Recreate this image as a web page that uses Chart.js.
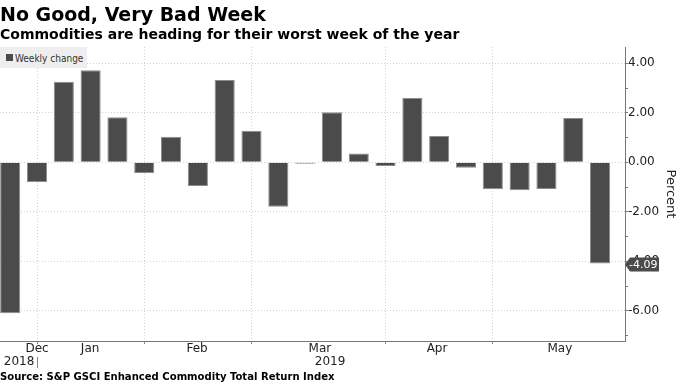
<!DOCTYPE html>
<html>
<head>
<meta charset="utf-8">
<script src="https://cdn.jsdelivr.net/npm/chart.js@4.4.1/dist/chart.umd.min.js"></script>
<style>
    html, body { margin: 0; padding: 0; background: #fff; }
    #wrap { position: relative; width: 680px; height: 383px; overflow: hidden; font-family: "DejaVu Sans", sans-serif; }
    #chart { position: absolute; left: 0; top: 0; }
    .title { position: absolute; left: 0; top: 3px; font-size: 19px; font-weight: bold; color: #000; white-space: nowrap; }
    .subtitle { position: absolute; left: 0; top: 26px; font-size: 14px; font-weight: bold; color: #000; white-space: nowrap; }
    .legend { position: absolute; left: 0; top: 47px; width: 87px; height: 21px; background: #eeeeee; }
    .legend .swatch { position: absolute; left: 6px; top: 7px; width: 7px; height: 7px; background: #4b4b4b; }
    .legend .label { position: absolute; left: 15px; top: 6px; font-family: "DejaVu Sans Condensed", "DejaVu Sans", sans-serif; font-size: 10px; color: #333; white-space: nowrap; }
    .source { position: absolute; left: 0; top: 370px; font-family: "DejaVu Sans Condensed", "DejaVu Sans", sans-serif; font-size: 11.2px; font-weight: bold; color: #000; white-space: nowrap; }
</style>
</head>
<body>
<div id="wrap">
    <canvas id="chart" width="680" height="383"></canvas>
    <div class="title">No Good, Very Bad Week</div>
    <div class="subtitle">Commodities are heading for their worst week of the year</div>
    <div class="legend"><span class="swatch"></span><span class="label">Weekly change</span></div>
    <div class="source">Source: S&amp;P GSCI Enhanced Commodity Total Return Index</div>
</div>
<script>
// Weekly % change, one bar per week (week ending Friday)
const weekEnding = [
    "2018-12-28", "2019-01-04", "2019-01-11", "2019-01-18", "2019-01-25",
    "2019-02-01", "2019-02-08", "2019-02-15", "2019-02-22", "2019-03-01",
    "2019-03-08", "2019-03-15", "2019-03-22", "2019-03-29", "2019-04-05",
    "2019-04-12", "2019-04-19", "2019-04-26", "2019-05-03", "2019-05-10",
    "2019-05-17", "2019-05-24", "2019-05-31"
];
const weeklyChange = [
    -6.10, -0.80, 3.26, 3.72, 1.82, -0.43, 1.03, -0.96, 3.33, 1.28,
    -1.80, -0.06, 2.02, 0.36, -0.15, 2.60, 1.06, -0.22, -1.09, -1.13,
    -1.08, 1.79, -4.09
];

// x axis, in week-index units
const monthStartAt = [1, 5, 9, 14, 18];
const monthLabels = ["Dec", "Jan", "Feb", "Mar", "Apr", "May"];
const monthLabelAt = [1, 2.98, 6.97, 11.55, 15.92, 20.5];
const yearLabels = ["2018", "2019"];
const yearLabelAt = [0.33, 11.93];
const yearBreakAt = 1;

// y axis (percent)
const yTickValues = [-7, -6, -5, -4, -3, -2, -1, 0, 1, 2, 3, 4];

const X_MIN = -0.38, X_MAX = 22.93;
const BAR = "#4b4b4b";

// latest-value tag on the right axis + the small 2018|2019 divider
const extras = {
    id: "extras",
    afterDraw(chart) {
        const ctx = chart.ctx;
        const last = weeklyChange[weeklyChange.length - 1];
        const y = Math.round(chart.scales.y.getPixelForValue(last)) + 0.5;
        const x = chart.chartArea.right;
        ctx.save();
        ctx.fillStyle = BAR;
        ctx.beginPath();
        ctx.moveTo(x, y);
        ctx.lineTo(x + 5, y - 7);
        ctx.lineTo(x + 34, y - 7);
        ctx.lineTo(x + 34, y + 7);
        ctx.lineTo(x + 5, y + 7);
        ctx.closePath();
        ctx.fill();
        ctx.fillStyle = "#fff";
        ctx.font = '11px "DejaVu Sans"';
        ctx.textAlign = "left";
        ctx.textBaseline = "middle";
        ctx.fillText(last.toFixed(2), x + 4, y + 0.5);

        const yr = chart.scales.xYear;
        const bx = Math.round(yr.getPixelForValue(yearBreakAt)) + 0.5;
        ctx.strokeStyle = "#888";
        ctx.lineWidth = 1;
        ctx.beginPath();
        ctx.moveTo(bx, yr.top + 2);
        ctx.lineTo(bx, yr.top + 13);
        ctx.stroke();
        ctx.restore();
    }
};

new Chart(document.getElementById("chart"), {
    type: "bar",
    data: {
        labels: weekEnding,
        datasets: [{
            label: "Weekly change",
            data: weeklyChange.map((v, i) => ({ x: i, y: v })),
            backgroundColor: BAR,
            borderColor: "#8c8c8c",
            borderWidth: 1,
            categoryPercentage: 1,
            barPercentage: 0.75,
            xAxisID: "x",
            yAxisID: "y"
        }]
    },
    options: {
        responsive: false,
        animation: false,
        layout: { padding: { top: 47, left: 0, right: 0, bottom: 0 } },
        plugins: {
            legend: { display: false },
            tooltip: {
                callbacks: {
                    title: items => weekEnding[items[0].dataIndex]
                }
            }
        },
        scales: {
            x: {
                type: "linear",
                position: "bottom",
                weight: 0,
                offset: false,
                min: X_MIN,
                max: X_MAX,
                afterBuildTicks: s => { s.ticks = monthStartAt.map(v => ({ value: v })); },
                afterFit: s => { s.height = 1; },
                ticks: { display: false },
                grid: { offset: false, color: "#d2d2d2", tickColor: "#888", tickLength: 3, drawTicks: true },
                border: { color: "#777", dash: [1, 2] }
            },
            xMonth: {
                type: "linear",
                position: "bottom",
                weight: 1,
                offset: false,
                min: X_MIN,
                max: X_MAX,
                afterBuildTicks: s => { s.ticks = monthLabelAt.map(v => ({ value: v })); },
                afterFit: s => { s.height = 13; },
                ticks: {
                    autoSkip: false,
                    maxRotation: 0,
                    padding: 0,
                    color: "#222",
                    font: { family: "DejaVu Sans", size: 12 },
                    callback: (v, i) => monthLabels[i]
                },
                grid: { display: false, drawTicks: false, offset: false },
                border: { display: false }
            },
            xYear: {
                type: "linear",
                position: "bottom",
                weight: 2,
                offset: false,
                min: X_MIN,
                max: X_MAX,
                afterBuildTicks: s => { s.ticks = yearLabelAt.map(v => ({ value: v })); },
                afterFit: s => { s.height = 28; },
                ticks: {
                    autoSkip: false,
                    maxRotation: 0,
                    padding: 0,
                    color: "#222",
                    font: { family: "DejaVu Sans", size: 12 },
                    callback: (v, i) => yearLabels[i]
                },
                grid: { display: false, drawTicks: false, offset: false },
                border: { display: false }
            },
            y: {
                position: "right",
                min: -7.22,
                max: 4.66,
                afterBuildTicks: s => { s.ticks = yTickValues.map(v => ({ value: v })); },
                afterFit: s => { s.width = 55; },
                ticks: {
                    padding: 0,
                    color: "#222",
                    font: { family: "DejaVu Sans", size: 12 },
                    callback: v => v % 2 === 0 ? v.toFixed(2) : ""
                },
                grid: {
                    color: c => (c.tick && c.tick.value % 2 === 0) ? "#d2d2d2" : "rgba(0,0,0,0)",
                    tickColor: "#777",
                    tickLength: 3
                },
                border: { color: "#777", dash: [1, 2] },
                title: {
                    display: true,
                    text: "Percent",
                    color: "#222",
                    font: { family: "DejaVu Sans", size: 13 },
                    padding: { top: 2, bottom: 0 }
                }
            }
        }
    },
    plugins: [extras]
});
</script>
</body>
</html>
